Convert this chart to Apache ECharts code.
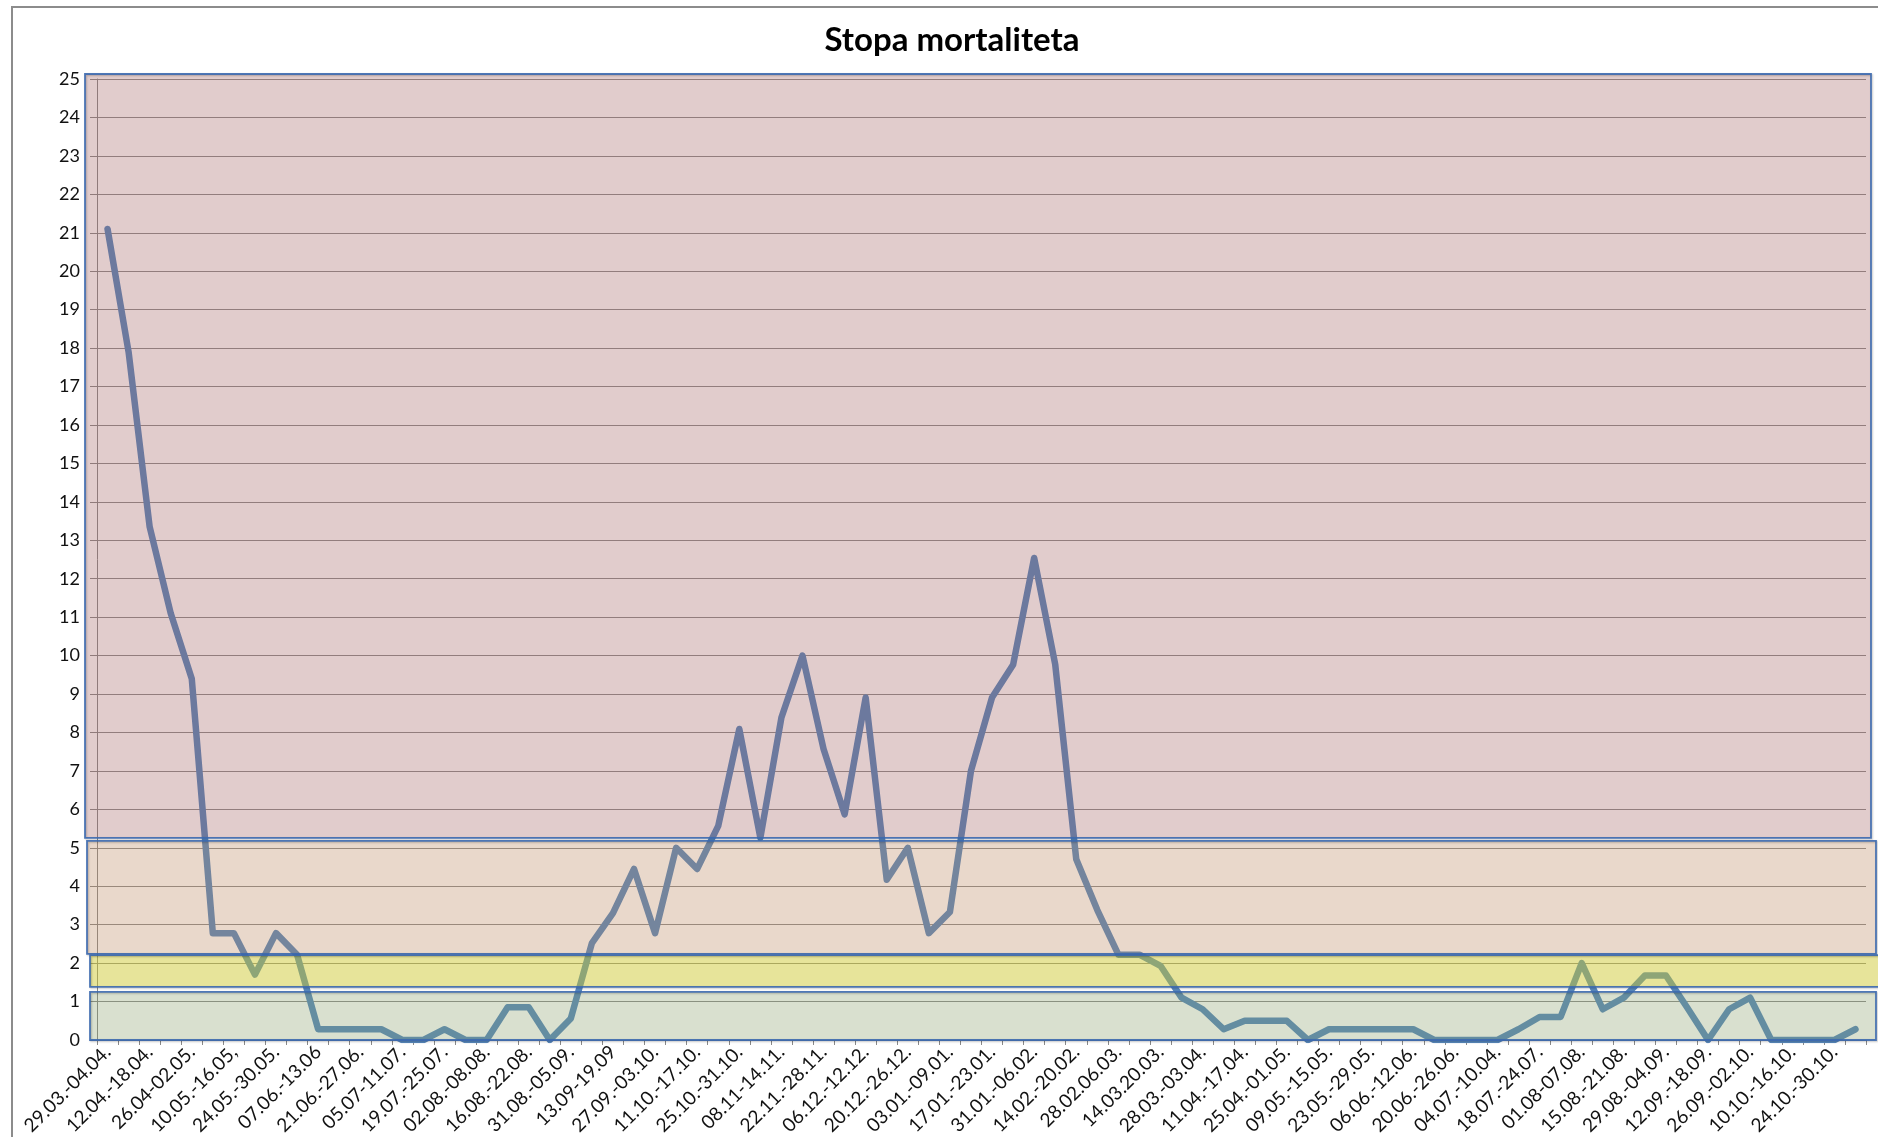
<!DOCTYPE html>
<html><head><meta charset="utf-8">
<script src="https://cdn.jsdelivr.net/npm/echarts@6/dist/echarts.min.js"></script>
<style>html,body{margin:0;padding:0;background:#fff;overflow:hidden}#c{width:1878px;height:1137px}</style>
</head><body><div id="c"></div>
<script>
const chartTitle = 'Stopa mortaliteta';
const categories = [
 '29.03.-04.04.','05.04.-11.04.','12.04.-18.04.','19.04.-25.04.','26.04-02.05.','03.05.-09.05.',
 '10.05.-16.05,','17.05.-23.05.','24.05.-30.05.','31.05.-06.06.','07.06.-13.06','14.06.-20.06.',
 '21.06.-27.06.','28.06.-04.07.','05.07-11.07.','12.07.-18.07.','19.07.-25.07.','26.07.-01.08.',
 '02.08.-08.08.','09.08.-15.08.','16.08.-22.08.','23.08.-30.08.','31.08.-05.09.','06.09.-12.09.',
 '13.09-19.09','20.09.-26.09.','27.09.-03.10.','04.10.-10.10.','11.10.-17.10.','18.10.-24.10.',
 '25.10.-31.10.','01.11.-07.11.','08.11-14.11.','15.11.-21.11.','22.11.-28.11.','29.11.-05.12.',
 '06.12.-12.12.','13.12.-19.12.','20.12.-26.12.','27.12.-02.01.','03.01.-09.01.','10.01.-16.01.',
 '17.01.-23.01.','24.01.-30.01.','31.01.-06.02.','07.02.-13.02.','14.02.-20.02.','21.02.-27.02.',
 '28.02.06.03.','07.03.-13.03.','14.03.20.03.','21.03.-27.03.','28.03.-03.04.','04.04.-10.04.',
 '11.04.-17.04.','18.04.-24.04.','25.04.-01.05.','02.05.-08.05.','09.05.-15.05.','16.05.-22.05.',
 '23.05.-29.05.','30.05.-05.06.','06.06.-12.06.','13.06.-19.06.','20.06.-26.06.','27.06.-03.07.',
 '04.07.-10.04.','11.07.-17.07.','18.07.-24.07.','25.07.-31.07.','01.08-07.08.','08.08.-14.08.',
 '15.08.-21.08.','22.08.-28.08.','29.08.-04.09.','05.09.-11.09.','12.09.-18.09.','19.09.-25.09.',
 '26.09.-02.10.','03.10.-09.10.','10.10.-16.10.','17.10.-23.10.','24.10.-30.10.','31.10.-06.11.'
];
const mortalityRate = [
 21.1,17.9,13.35,11.1,9.4,2.78,2.78,1.7,2.78,2.22,
 0.28,0.28,0.28,0.28,0,0,0.28,0,0,0.85,
 0.85,0,0.56,2.52,3.3,4.45,2.78,5.0,4.45,5.57,
 8.09,5.26,8.39,10.0,7.57,5.87,8.91,4.17,5.0,2.78,
 3.33,7.0,8.91,9.76,12.54,9.77,4.7,3.38,2.22,2.22,
 1.93,1.1,0.8,0.28,0.5,0.5,0.5,0,0.28,0.28,
 0.28,0.28,0.28,0,0,0,0,0.28,0.6,0.6,
 2.0,0.8,1.1,1.68,1.68,0.85,0,0.8,1.1,0,
 0,0,0,0.28
];
const yMin = 0, yMax = 25, yStep = 1;
// threshold bands (value ranges)
const bandLow  = [5.26, 2.24, 1.38, 0];
const bandHigh = [25.13, 5.18, 2.21, 1.25];
const bandFill = ['rgba(155,85,85,0.3)','rgba(182,125,82,0.3)','rgba(205,198,40,0.47)','rgba(128,152,95,0.3)'];
const bandLeft  = [85, 87, 90, 90];
const bandRight = [1871, 1876, 1884, 1876];

const chart = echarts.init(document.getElementById('c'), null, {renderer:'canvas'});
const FONT = 'Lato, "Liberation Sans", sans-serif';
chart.setOption({
  animation:false,
  backgroundColor:'#ffffff',
  grid:{left:97,right:12,top:79,bottom:97,containLabel:false,outerBoundsMode:'none'},
  xAxis:{
    type:'category', data:categories, boundaryGap:true,
    axisLine:{show:true,lineStyle:{color:'#8a8a8a',width:1}},
    axisTick:{show:true,interval:0,length:5,lineStyle:{color:'#8a8a8a'}},
    axisLabel:{interval:1,rotate:45,fontSize:19,color:'#111',fontFamily:FONT,margin:9},
    splitLine:{show:false}
  },
  yAxis:{
    type:'value', min:yMin, max:yMax, interval:yStep,
    axisLine:{show:true,lineStyle:{color:'#8a8a8a',width:1}},
    axisTick:{show:true,inside:false,length:7,lineStyle:{color:'#8a8a8a'}},
    axisLabel:{fontSize:18,color:'#111',fontFamily:FONT,margin:17},
    splitLine:{show:true,lineStyle:{color:'#8f8f8f',width:1.2}}
  },
  series:[{
    type:'line', name:chartTitle, data:mortalityRate, z:2,
    symbol:'none', smooth:false,
    lineStyle:{color:'#5888bd',width:6.5,cap:'round',join:'round'}
  }]
});

function buildGraphics(){
  const els = [];
  els.push({type:'rect',z:0,silent:true,shape:{x:12,y:7,width:1900,height:1200},
    style:{fill:null,stroke:'#8c8c8c',lineWidth:2}});
  els.push({type:'text',z:200,silent:true,x:952,y:40,
    style:{text:chartTitle,font:'bold 33px '+FONT,fill:'#000',textAlign:'center',textVerticalAlign:'middle'}});
  for(let i=0;i<bandLow.length;i++){
    const yTop = chart.convertToPixel({yAxisIndex:0}, bandHigh[i]);
    const yBot = chart.convertToPixel({yAxisIndex:0}, bandLow[i]);
    const shape = {x:bandLeft[i],y:yTop,width:bandRight[i]-bandLeft[i],height:yBot-yTop};
    els.push({type:'rect',z:100+i,silent:true,shape:shape,style:{fill:bandFill[i],stroke:null}});
    els.push({type:'rect',z:110+i,silent:true,shape:Object.assign({},shape),
      style:{fill:null,stroke:'rgba(60,105,175,0.9)',lineWidth:1.8,
        shadowBlur:2,shadowColor:'rgba(0,0,0,0.25)',shadowOffsetX:1,shadowOffsetY:1}});
  }
  return els;
}
chart.setOption({graphic:{elements:buildGraphics()}});
</script>
</body></html>
